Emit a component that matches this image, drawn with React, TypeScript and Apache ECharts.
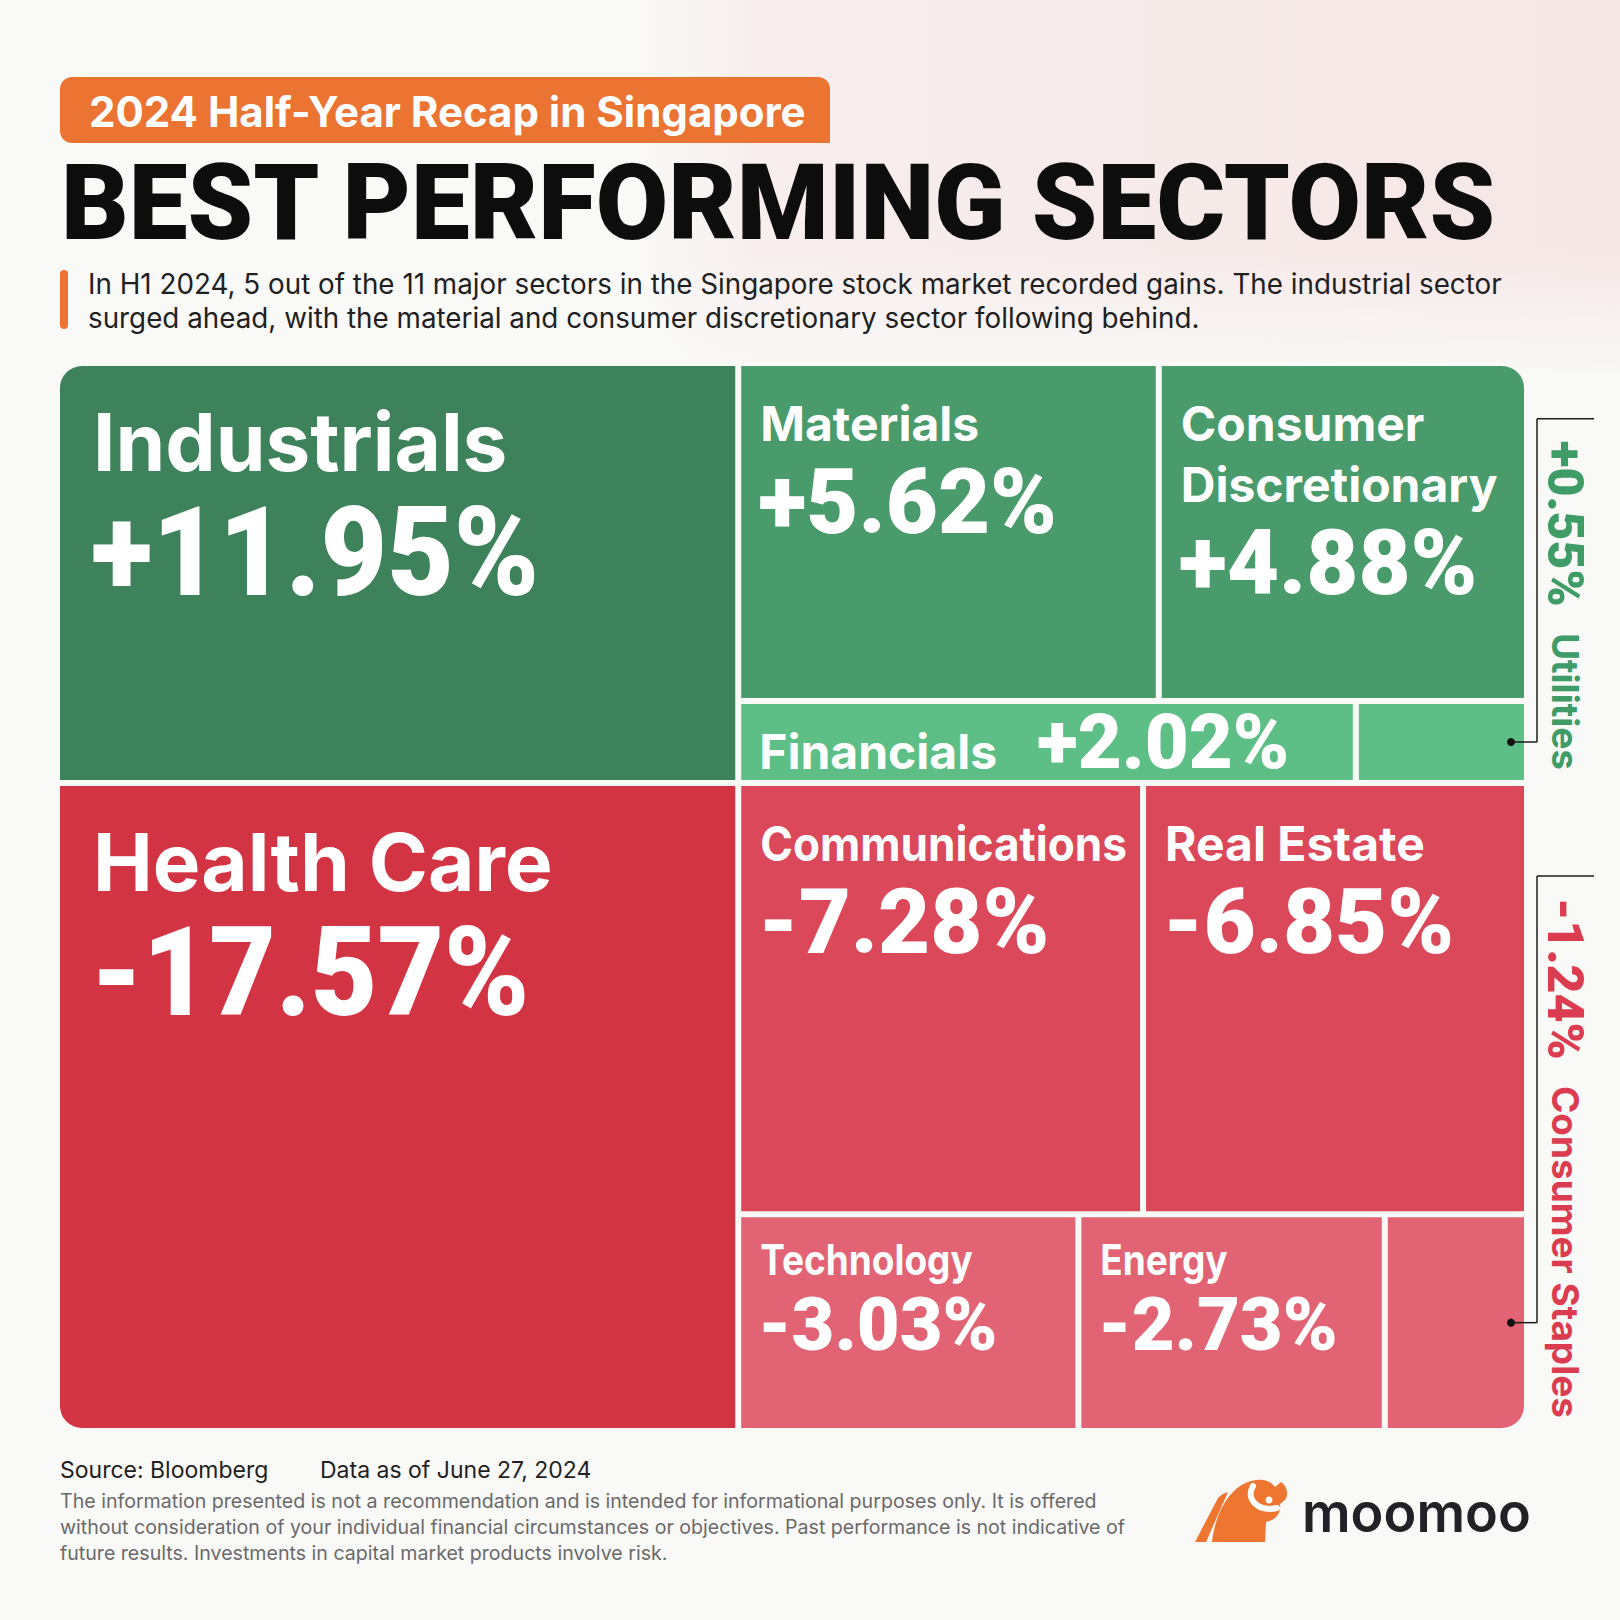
import React, { useEffect, useRef } from "react";
import * as echarts from "echarts";

// ---------------- data ----------------
const sectors = [
  "Industrials",
  "Materials",
  "Consumer Discretionary",
  "Financials",
  "Utilities",
  "Health Care",
  "Communications",
  "Real Estate",
  "Technology",
  "Energy",
  "Consumer Staples",
];
const changes = [11.95, 5.62, 4.88, 2.02, 0.55, -17.57, -7.28, -6.85, -3.03, -2.73, -1.24];

// structure of the treemap (which sectors share a column / row)
const leadSectors = ["Industrials", "Health Care"];
const gainRows = [
  ["Materials", "Consumer Discretionary"],
  ["Financials", "Utilities"],
];
const lossRows = [
  ["Communications", "Real Estate"],
  ["Technology", "Energy", "Consumer Staples"],
];

const tagText = "2024 Half-Year Recap in Singapore";
const titleText = "BEST PERFORMING SECTORS";
const introLines = [
  "In H1 2024, 5 out of the 11 major sectors in the Singapore stock market recorded gains. The industrial sector",
  "surged ahead, with the material and consumer discretionary sector following behind.",
];
const sourceLabel = "Source: Bloomberg";
const dateLabel = "Data as of June 27, 2024";
const disclaimerLines = [
  "The information presented is not a recommendation and is intended for informational purposes only. It is offered",
  "without consideration of your individual financial circumstances or objectives. Past performance is not indicative of",
  "future results. Investments in capital market products involve risk.",
];
const brandLabel = "moomoo";

// ---------------- styling helpers ----------------
const NAME_FONT = "Inter, 'Noto Sans', sans-serif";
const VALUE_FONT = "Roboto, 'Noto Sans', sans-serif";
const TEXT_FONT = "Inter, 'Noto Sans', sans-serif";

const BULL_BODY =
  "M17 64 C19 46 26 26 38 14 C47 5 58 1 68 2 C74 3 78 6 80 9 L86 4 C92 8 94 16 90 22 L85 26 C86 33 83 39 77 42 L71 44 L70 64 Z";
const BULL_STRIPE = "M0 64 L11 64 L33 14 C29 15 26 17 23 20 Z";
echarts.graphic.registerShape("bullBody", echarts.graphic.extendPath(BULL_BODY, {}));
echarts.graphic.registerShape("bullStripe", echarts.graphic.extendPath(BULL_STRIPE, {}));

let measureCtx: CanvasRenderingContext2D | null = null;
function textWidth(text: string, size: number, weight: number, family: string) {
  if (!measureCtx) measureCtx = document.createElement("canvas").getContext("2d");
  if (!measureCtx) return text.length * size * 0.55;
  measureCtx.font = `${weight} ${size}px ${family}`;
  return measureCtx.measureText(text).width;
}

function wrapWords(text: string, size: number, weight: number, family: string, maxW: number) {
  const words = text.split(" ");
  const lines: string[] = [];
  let cur = "";
  for (const w of words) {
    const trial = cur ? cur + " " + w : w;
    if (cur && textWidth(trial, size, weight, family) > maxW) {
      lines.push(cur);
      cur = w;
    } else cur = trial;
  }
  if (cur) lines.push(cur);
  return lines;
}

const fmt = (v: number) => (v > 0 ? "+" : "") + v.toFixed(2) + "%";

function cellColor(v: number) {
  const a = Math.abs(v);
  if (v > 0) return a >= 10 ? "#3D825A" : a >= 4 ? "#4A9B6B" : "#5DBF86";
  return a >= 10 ? "#D33443" : a >= 4 ? "#DB4859" : "#E16374";
}
function sideColor(v: number) {
  return v > 0 ? "#3F9C66" : "#DC3C50";
}

// slice-and-dice layout computed from the values (normalised 0..1 units)
function buildCells() {
  const val = (n: string) => Math.abs(changes[sectors.indexOf(n)]);
  const sum = (arr: string[]) => arr.reduce((a, n) => a + val(n), 0);
  const total = sum(sectors);
  const gainTotal = sum(sectors.filter((_, i) => changes[i] > 0));
  const ySplit = gainTotal / total;
  const xSplit = sum(leadSectors) / total;
  const cells: number[][] = [];
  cells.push([0, 0, xSplit, ySplit, sectors.indexOf(leadSectors[0])]);
  cells.push([0, ySplit, xSplit, 1, sectors.indexOf(leadSectors[1])]);
  const placeRows = (rows: string[][], y0: number, y1: number) => {
    const rowsTotal = rows.reduce((a, r) => a + sum(r), 0);
    let y = y0;
    rows.forEach((r) => {
      const h = ((y1 - y0) * sum(r)) / rowsTotal;
      let x = xSplit;
      r.forEach((n) => {
        const w = ((1 - xSplit) * val(n)) / sum(r);
        cells.push([x, y, x + w, y + h, sectors.indexOf(n)]);
        x += w;
      });
      y += h;
    });
  };
  placeRows(gainRows, 0, ySplit);
  placeRows(lossRows, ySplit, 1);
  return cells;
}

const TIERS: Record<string, any> = {
  big: { pad: 33, nameSize: 80, nameScale: 1, nameY: 75, valueSize: 125, valueScale: 0.92, valueY: 186, lineGap: 80 },
  medium: { pad: 19, nameSize: 48, nameScale: 1, nameY: 57, valueSize: 90, valueScale: 1, valueY: 136, lineGap: 61 },
  small: { pad: 19, nameSize: 42, nameScale: 0.88, nameY: 43, valueSize: 74, valueScale: 1, valueY: 107, lineGap: 50 },
};

function renderCell(params: any, api: any) {
  const x0 = api.value(0);
  const y0 = api.value(1);
  const x1 = api.value(2);
  const y1 = api.value(3);
  const k = api.value(4);
  const p0 = api.coord([x0, y0]);
  const p1 = api.coord([x1, y1]);
  const eps = 1e-6;
  const g = 3;
  const L = x0 < eps ? p0[0] : p0[0] + g;
  const R = x1 > 1 - eps ? p1[0] : p1[0] - g;
  const T = y0 < eps ? p0[1] : p0[1] + g;
  const B = y1 > 1 - eps ? p1[1] : p1[1] - g;
  const rad = 22;
  const r = [
    x0 < eps && y0 < eps ? rad : 0,
    x1 > 1 - eps && y0 < eps ? rad : 0,
    x1 > 1 - eps && y1 > 1 - eps ? rad : 0,
    x0 < eps && y1 > 1 - eps ? rad : 0,
  ];
  const name = sectors[k];
  const v = changes[k];
  const label = fmt(v);
  const w = R - L;
  const h = B - T;
  const children: any[] = [
    { type: "rect", shape: { x: L, y: T, width: w, height: h, r }, style: { fill: cellColor(v) } },
  ];
  const cs = params.coordSys;
  const gridRight = cs.x + cs.width;

  if (w < 200) {
    // annotation outside the map
    const lineX = gridRight + 13;
    const dotX = R - 13;
    const dotY = (T + B) / 2;
    const gap = "   ";
    const vw = textWidth(label, 50, 900, VALUE_FONT);
    const nw = textWidth(gap + name, 37, 700, NAME_FONT);
    const textEnd = B - 10;
    const textStart = textEnd - vw - nw;
    const bracketTop = textStart - 22;
    const lineStyle = { stroke: "#1c1c1c", lineWidth: 1.5 };
    children.push(
      { type: "line", shape: { x1: dotX, y1: dotY, x2: lineX, y2: dotY }, style: lineStyle },
      { type: "line", shape: { x1: lineX, y1: dotY, x2: lineX, y2: bracketTop }, style: lineStyle },
      { type: "line", shape: { x1: lineX, y1: bracketTop, x2: lineX + 57, y2: bracketTop }, style: lineStyle },
      { type: "circle", shape: { cx: dotX, cy: dotY, r: 4 }, style: { fill: "#111" } },
      {
        type: "text",
        x: lineX + 28,
        y: textEnd,
        rotation: -Math.PI / 2,
        style: {
          text: `{v|${label}}{n|${gap}${name}}`,
          align: "right",
          verticalAlign: "middle",
          fill: sideColor(v),
          rich: {
            v: { fontSize: 50, fontWeight: 900, fontFamily: VALUE_FONT, fill: sideColor(v) },
            n: { fontSize: 37, fontWeight: 700, fontFamily: NAME_FONT, fill: sideColor(v) },
          },
        },
      }
    );
  } else if (h < 150) {
    const cy = (T + B) / 2;
    const nameSize = 48;
    const nw = textWidth(name, nameSize, 700, NAME_FONT);
    children.push(
      {
        type: "text",
        x: L + 18,
        y: cy + 9,
        style: { text: name, fill: "#fff", fontSize: nameSize, fontWeight: 700, fontFamily: NAME_FONT, align: "left", verticalAlign: "middle" },
      },
      {
        type: "text",
        x: L + 18 + nw + 40,
        y: cy,
        style: { text: label, fill: "#fff", fontSize: 76, fontWeight: 900, fontFamily: VALUE_FONT, align: "left", verticalAlign: "middle" },
      }
    );
  } else {
    const tier = w * h > 250000 ? TIERS.big : h > 300 ? TIERS.medium : TIERS.small;
    const avail = w - 2 * tier.pad + 6;
    const lines = wrapWords(name, tier.nameSize, 700, NAME_FONT, avail / tier.nameScale);
    lines.forEach((ln, i) => {
      const lw = textWidth(ln, tier.nameSize, 700, NAME_FONT);
      const sx = Math.min(tier.nameScale, avail / lw);
      children.push({
        type: "text",
        x: L + tier.pad,
        y: T + tier.nameY + i * tier.lineGap,
        scaleX: sx,
        style: { text: ln, fill: "#fff", fontSize: tier.nameSize, fontWeight: 700, fontFamily: NAME_FONT, align: "left", verticalAlign: "middle" },
      });
    });
    children.push({
      type: "text",
      x: L + tier.pad - 2,
      y: T + tier.valueY + (lines.length - 1) * tier.lineGap,
      scaleX: tier.valueScale,
      style: { text: label, fill: "#fff", fontSize: tier.valueSize, fontWeight: 900, fontFamily: VALUE_FONT, align: "left", verticalAlign: "middle" },
    });
  }
  return { type: "group", children };
}

function buildOption() {
  const cells = buildCells();
  const graphics: any[] = [
    // faint flag backdrop
    {
      type: "rect",
      z: -10,
      shape: { x: 640, y: 0, width: 980, height: 372 },
      style: {
        fill: new echarts.graphic.LinearGradient(0, 0, 1, 0, [
          { offset: 0, color: "rgba(228,140,140,0)" },
          { offset: 0.12, color: "rgba(228,140,140,0.10)" },
          { offset: 1, color: "rgba(228,140,140,0.17)" },
        ]),
      },
    },
    {
      type: "rect",
      z: -9,
      shape: { x: 0, y: 250, width: 1620, height: 125 },
      style: {
        fill: new echarts.graphic.LinearGradient(0, 0, 0, 1, [
          { offset: 0, color: "rgba(249,249,248,0)" },
          { offset: 1, color: "rgba(249,249,248,1)" },
        ]),
      },
    },
    // tag
    { type: "rect", shape: { x: 60, y: 77, width: 770, height: 66, r: [12, 12, 0, 12] }, style: { fill: "#EC7432" } },
    {
      type: "text",
      x: 89,
      y: 111,
      style: { text: tagText, fill: "#fff", fontSize: 42, fontWeight: 700, fontFamily: TEXT_FONT, align: "left", verticalAlign: "middle" },
    },
    {
      type: "text",
      x: 61,
      y: 203,
      style: { text: titleText, fill: "#0d0d0d", fontSize: 105, fontWeight: 900, fontFamily: VALUE_FONT, align: "left", verticalAlign: "middle" },
    },
    { type: "rect", shape: { x: 60, y: 270, width: 8, height: 59, r: 4 }, style: { fill: "#EC7432" } },
    ...introLines.map((t, i) => ({
      type: "text",
      x: 88,
      y: 284 + i * 34,
      style: { text: t, fill: "#1f1f1f", fontSize: 27.8, fontWeight: 400, fontFamily: TEXT_FONT, align: "left", verticalAlign: "middle" },
    })),
    // footer
    {
      type: "text",
      x: 60,
      y: 1470,
      style: { text: sourceLabel, fill: "#1f1f1f", fontSize: 23, fontWeight: 400, fontFamily: TEXT_FONT, align: "left", verticalAlign: "middle" },
    },
    {
      type: "text",
      x: 320,
      y: 1470,
      style: { text: dateLabel, fill: "#1f1f1f", fontSize: 23, fontWeight: 400, fontFamily: TEXT_FONT, align: "left", verticalAlign: "middle" },
    },
    ...disclaimerLines.map((t, i) => ({
      type: "text",
      x: 60,
      y: 1501 + i * 26,
      style: { text: t, fill: "#6a6a6a", fontSize: 19.6, fontWeight: 400, fontFamily: TEXT_FONT, align: "left", verticalAlign: "middle" },
    })),
    // logo
    {
      type: "group",
      x: 1195,
      y: 1478,
      children: [
        { type: "bullStripe", style: { fill: "#EE7630" } },
        { type: "bullBody", style: { fill: "#EE7630" } },
        {
          type: "bezierCurve",
          shape: { x1: 58, y1: 8, x2: 82, y2: 30, cpx1: 50, cpy1: 22, cpx2: 64, cpy2: 34 },
          style: { stroke: "#fff", lineWidth: 6, fill: null, lineCap: "round" },
        },
        { type: "circle", shape: { cx: 74, cy: 22, r: 3.5 }, style: { fill: "#fff" } },
      ],
    },
    {
      type: "text",
      x: 1302,
      y: 1512,
      style: { text: brandLabel, fill: "#222226", fontSize: 54, fontWeight: 600, fontFamily: TEXT_FONT, align: "left", verticalAlign: "middle" },
    },
  ];

  return {
    animation: false,
    backgroundColor: "#F9F9F8",
    grid: { left: 60, top: 366, width: 1464, height: 1062 },
    xAxis: { type: "value", min: 0, max: 1, show: false },
    yAxis: { type: "value", min: 0, max: 1, inverse: true, show: false },
    graphic: { elements: graphics },
    series: [
      {
        type: "custom",
        coordinateSystem: "cartesian2d",
        clip: false,
        silent: true,
        renderItem: renderCell,
        data: cells,
      },
    ],
  };
}

export default function App() {
  const ref = useRef<HTMLDivElement>(null);
  useEffect(() => {
    document.body.style.margin = "0";
    document.body.style.overflow = "hidden";
    if (!ref.current) return;
    const chart = echarts.init(ref.current, undefined, { renderer: "svg" });
    chart.setOption(buildOption() as any);
    return () => chart.dispose();
  }, []);
  return <div ref={ref} style={{ width: 1620, height: 1620 }} />;
}
